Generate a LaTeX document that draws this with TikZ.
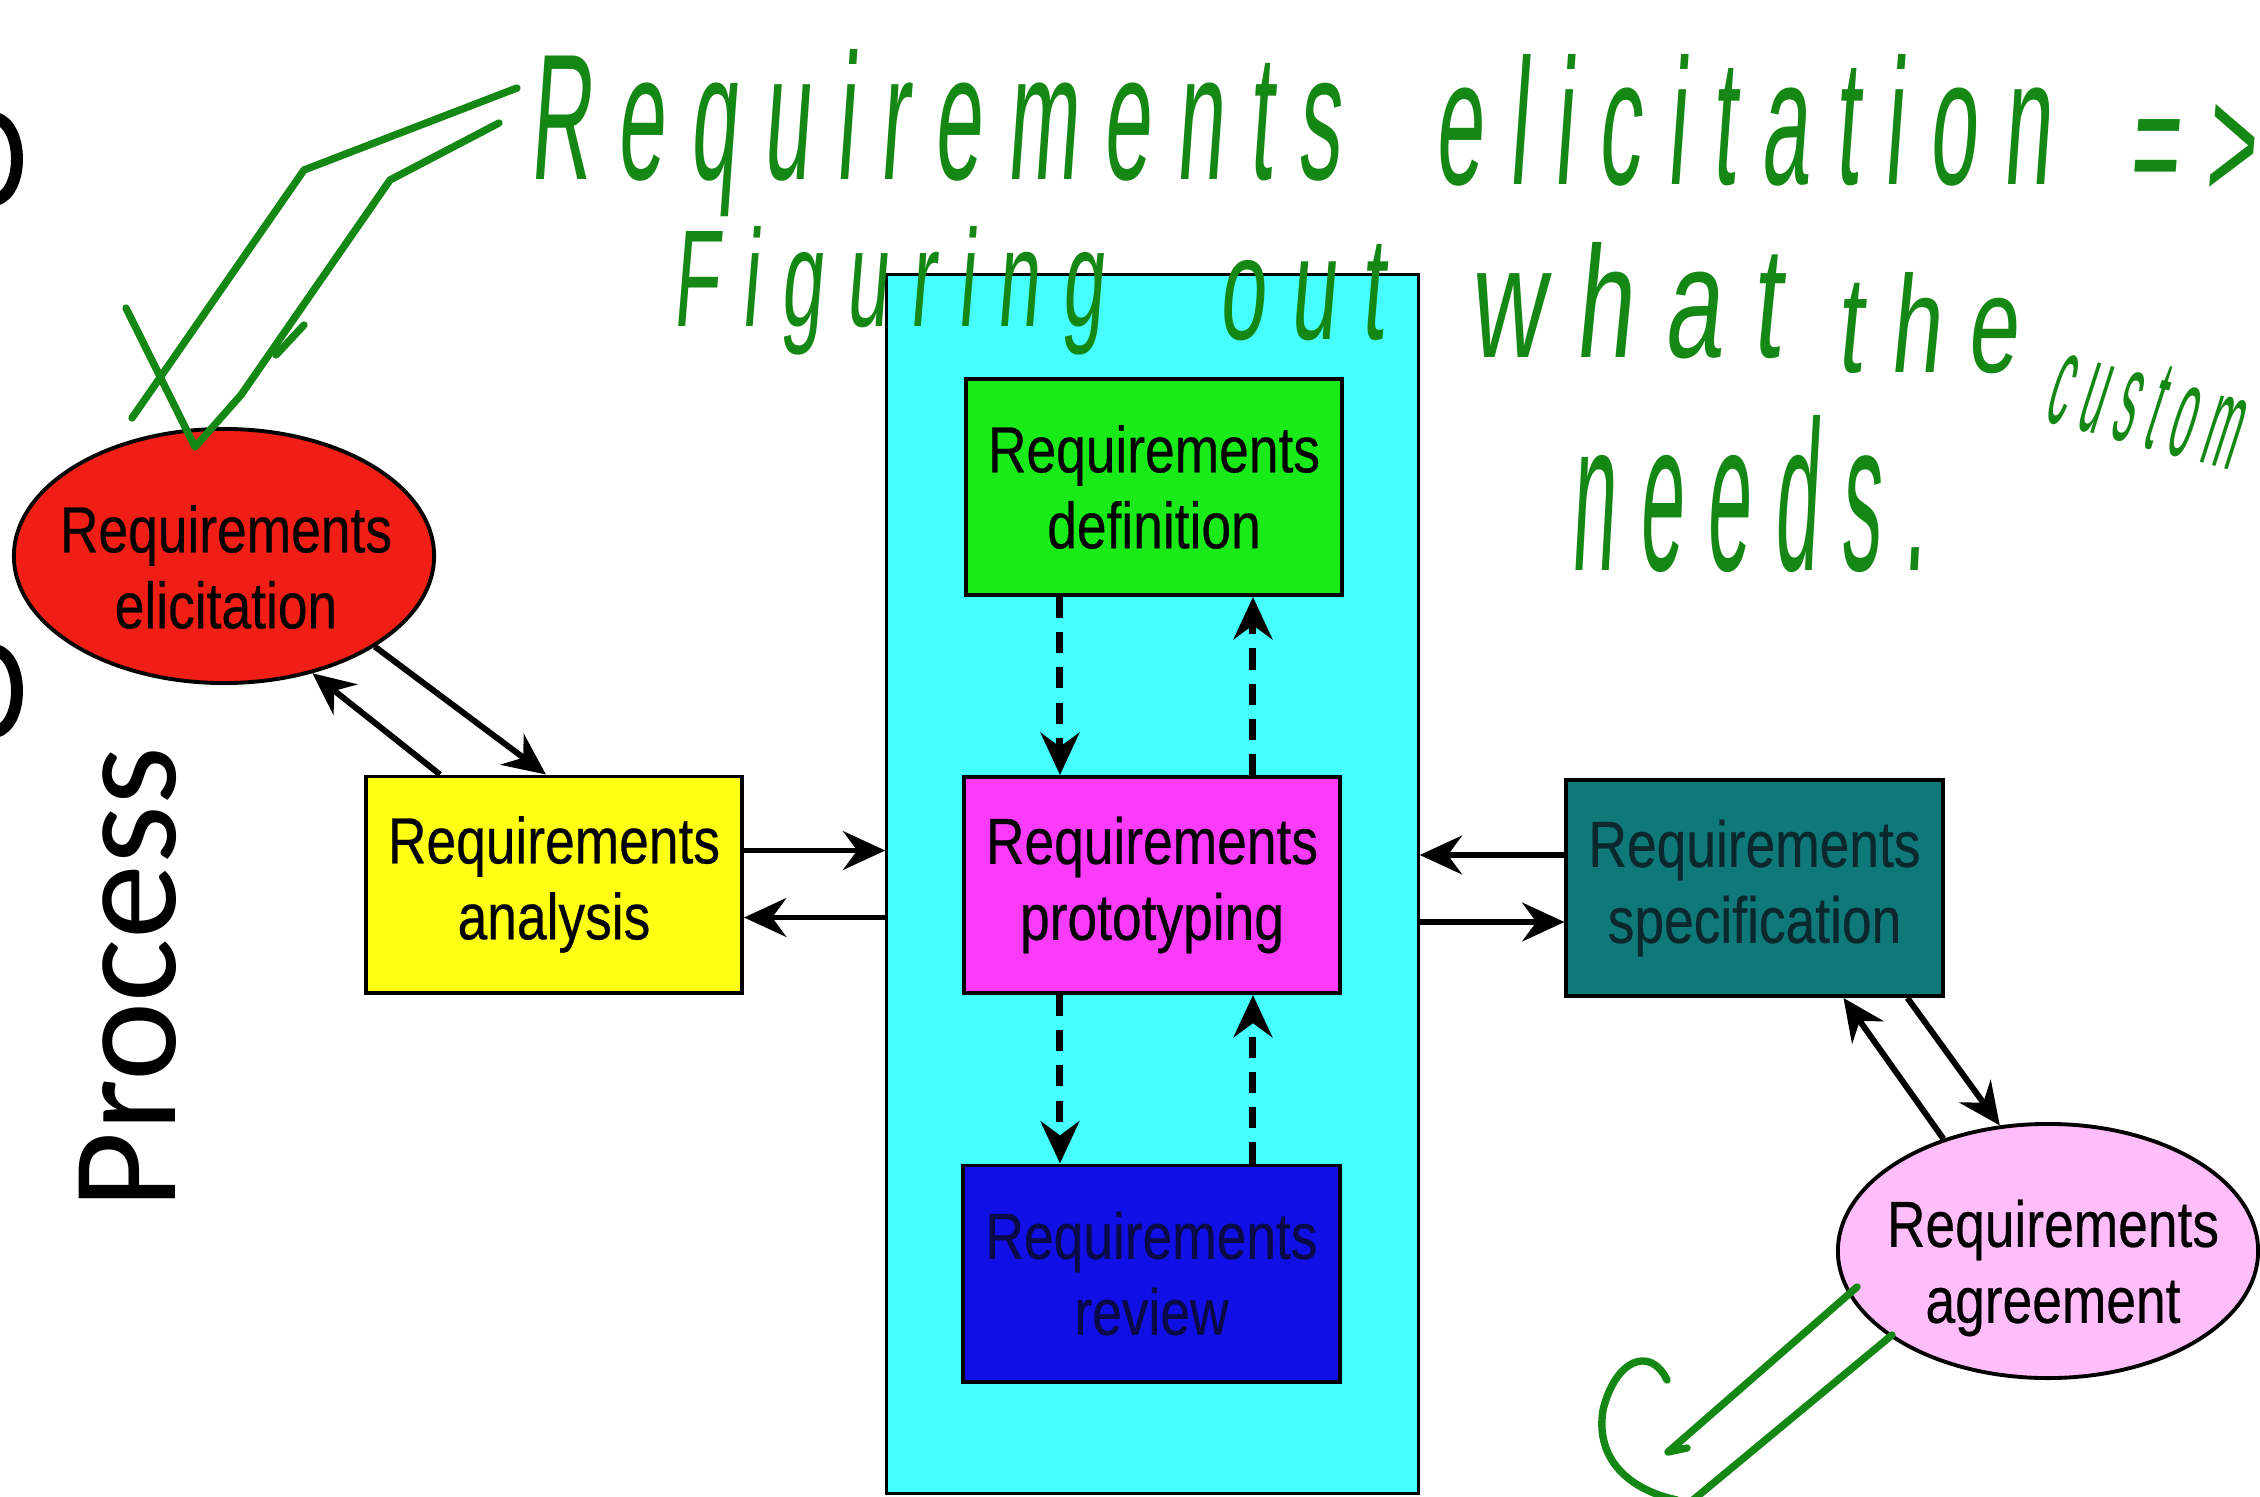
\documentclass[tikz,border=0pt]{standalone}
\usepackage{fontspec}
\usetikzlibrary{arrows.meta,calc,shapes.geometric}
\newfontfamily\boxfont{Liberation Sans}[FakeStretch=0.82,FakeBold=0.4]
\newfontfamily\procfont{Carlito}
\newfontfamily\handfont{Liberation Sans}[LetterSpace=30,FakeSlant=0.15]
\newcommand\hword[3]{\resizebox{#1}{#2}{\handfont #3}}
\definecolor{cred}{RGB}{240,30,20}
\definecolor{cyel}{RGB}{255,255,20}
\definecolor{cgreen}{RGB}{25,235,25}
\definecolor{cmag}{RGB}{250,60,250}
\definecolor{cblue}{RGB}{15,15,230}
\definecolor{ccyan}{RGB}{70,255,255}
\definecolor{cteal}{RGB}{15,120,120}
\definecolor{cpink}{RGB}{255,190,250}
\definecolor{handgreen}{RGB}{20,135,20}
\definecolor{bluetext}{RGB}{10,10,70}
\definecolor{tealtext}{RGB}{10,40,45}
\begin{document}
\begin{tikzpicture}[x=0.01cm, y=-0.01cm,
  txt/.style={inner sep=0pt, align=center, font=\boxfont\fontsize{18.5}{21.6}\selectfont},
  box/.style={txt, draw=black, line width=1.1pt, minimum width=3.76cm, minimum height=2.16cm},
  ell/.style={draw=black, line width=1.1pt, ellipse, minimum width=4.2cm, minimum height=2.54cm, inner sep=0pt},
  arr/.style={line width=1.7pt, -{Stealth[length=12pt,width=11pt,inset=4pt]}},
  darr/.style={arr, line width=2pt, dash pattern=on 6pt off 4pt},
  hand/.style={text=handgreen, inner sep=0pt, anchor=base west},
  handline/.style={draw=handgreen, line width=2.1pt, line cap=round, line join=round}]
\fill[white] (0,0) rectangle (2260,1497);
\useasboundingbox (0,0) rectangle (2260,1497);

% cut-off glyphs at the left edge
\draw[line width=3.4pt] (-4,118) .. controls (24,126) and (24,192) .. (-4,200);
\draw[line width=3.4pt] (-4,650) .. controls (24,658) and (24,724) .. (-4,732);

% container
\node[draw=black, line width=0.9pt, fill=ccyan, minimum width=5.31cm, minimum height=12.18cm, inner sep=0pt] (cont) at (1152.5,884) {};

% boxes
\node[box, fill=cgreen] (def) at (1154,487) {Requirements\\definition};
\node[box, fill=cmag] (proto) at (1152,885) {Requirements\\prototyping};
\node[box, fill=cblue, text=bluetext] (rev) at (1151.5,1273.5) {Requirements\\review};
\node[box, fill=cyel] (ana) at (554,884.5) {Requirements\\analysis};
\node[box, fill=cteal, text=tealtext] (spec) at (1754.5,888) {Requirements\\specification};
\node[ell, fill=cred] (eli) at (224,556) {};
\node[txt] (elit) at (226,567) {Requirements\\elicitation};
\node[ell, fill=cpink] (agr) at (2048,1251) {};
\node[txt] (agrt) at (2053,1268) {Requirements\\agreement};

% Process label
\node[rotate=90, anchor=base west, inner sep=0pt, font=\procfont\fontsize{42.7}{50}\selectfont] (proc) at (175,1210) {Process};

% connectors analysis <-> container
\coordinate (a1) at ($(ana.north east)+(0,76)$);
\coordinate (a2) at ($(ana.north east)+(0,143)$);
\draw[arr] (a1) -- (a1 -| cont.west);
\draw[arr] (a2 -| cont.west) -- (a2);
% specification <-> container
\coordinate (s1) at ($(spec.north west)+(0,77)$);
\coordinate (s2) at ($(spec.north west)+(0,144)$);
\draw[arr] (s1) -- (s1 -| cont.east);
\draw[arr] (s2 -| cont.east) -- (s2);
% dashed inside container
\coordinate (d1) at ($(def.south west)+(96,0)$);
\coordinate (d2) at ($(def.south west)+(289,0)$);
\draw[darr] (d1) -- (d1 |- proto.north);
\draw[darr] (d2 |- proto.north) -- (d2);
\coordinate (d3) at ($(proto.south west)+(98,0)$);
\coordinate (d4) at ($(proto.south west)+(291,0)$);
\draw[darr] (d3) -- (d3 |- rev.north);
\draw[darr] (d4 |- rev.north) -- (d4);
% elicitation <-> analysis
\coordinate (e1) at ($(ana.north west)+(76,0)$);
\coordinate (e2) at ($(ana.north west)+(182,0)$);
\draw[arr] (e1) -- (eli.-53);
\draw[arr] (eli.-31) -- (e2);
% specification <-> agreement
\coordinate (g1) at ($(spec.south west)+(279,0)$);
\coordinate (g2) at ($(spec.south west)+(343,0)$);
\draw[arr] (agr.133) -- (g1);
\draw[arr] (g2) -- (agr.111);

% handwriting
\node[hand] (h1) at (529,180) {\hword{8.1cm}{1.3cm}{Requirements}};
\node[hand] (h2) at (1434,185) {\hword{6.15cm}{1.3cm}{elicitation}};
\node[hand] (h3) at (2128,200) {\hword{1.25cm}{0.95cm}{=>}};
\node[hand] (h4) at (672,327) {\hword{4.3cm}{1.0cm}{Figuring}};
\node[hand] (h5) at (1218,340) {\hword{1.65cm}{0.95cm}{out}};
\node[hand] (h6) at (1469,357) {\hword{3.1cm}{1.15cm}{what}};
\node[hand] (h7) at (1836,372) {\hword{1.8cm}{1.0cm}{the}};
\node[hand, rotate=-15] (h8) at (2042,420) {\hword{1.95cm}{0.85cm}{custom}};
\node[hand] (h9) at (1570,570) {\hword{3.55cm}{1.55cm}{needs.}};

% hand-drawn arrow to elicitation
\draw[handline] (517,88) -- (304,170) -- (132,418);
\draw[handline] (126,308) -- (195,447) -- (241,395) -- (390,180) -- (499,123);
\draw[handline] (304,325) -- (276,355);
% hand-drawn arrow to agreement
\draw[handline] (1667,1380) .. controls (1650,1345) and (1615,1360) .. (1603,1410)
  .. controls (1595,1460) and (1630,1490) .. (1677,1500);
\draw[handline] (1687,1448) -- (1668,1452) -- (1857,1287);
\draw[handline] (1892,1335) -- (1693,1500);
\end{tikzpicture}
\end{document}
